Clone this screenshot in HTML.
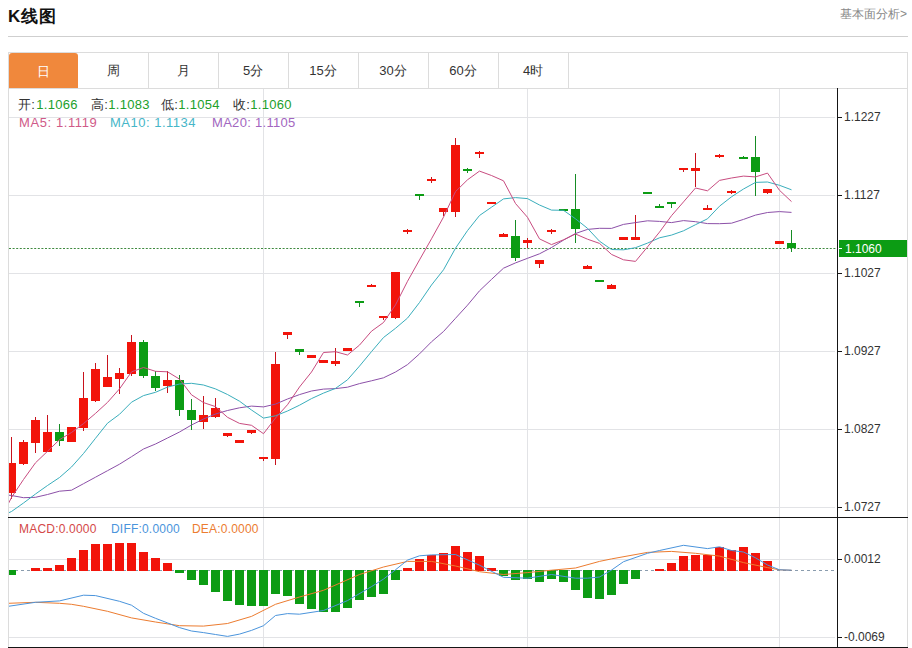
<!DOCTYPE html>
<html><head><meta charset="utf-8"><style>
*{margin:0;padding:0;box-sizing:border-box}
html,body{width:912px;height:648px;overflow:hidden;background:#fff;font-family:"Liberation Sans",sans-serif;position:relative}
.abs{position:absolute;white-space:nowrap}
.title{position:absolute;left:8px;top:5px;font-size:17px;font-weight:bold;color:#111;line-height:24px;letter-spacing:1px}
.more{position:absolute;right:5px;top:6px;font-size:12px;color:#888;line-height:16px}
.hsep{position:absolute;left:8px;top:36px;width:900px;height:1px;background:#cfcfcf}
.box{position:absolute;left:8px;top:52px;width:900px;height:596px;border:1px solid #dcdcdc;border-bottom:none}
.tabrow{position:absolute;left:8px;top:88px;width:900px;height:1px;background:#dcdcdc}
.tab{position:absolute;top:52px;width:70px;height:36px;line-height:38px;text-align:center;font-size:13px;color:#333}
.tab.on{background:#f0883c;color:#fff;border-radius:3px 3px 0 0;margin-left:1px;width:69px;top:53px;height:35px;line-height:37px}
.vsep{position:absolute;top:52px;width:1px;height:36px;background:#dcdcdc}
.al{position:absolute;left:844px;font-size:12px;line-height:16px;color:#333}
.tag{position:absolute;left:845px;top:241px;font-size:12px;line-height:17px;color:#fff}
.lg{position:absolute;font-size:13px;line-height:16px;white-space:nowrap;letter-spacing:0.3px}
.ml{position:absolute;font-size:12px;line-height:16px;white-space:nowrap;letter-spacing:0.2px}
svg{position:absolute;left:0;top:0}
</style></head><body>
<div class="title">K线图</div>
<div class="more">基本面分析&gt;</div>
<div class="hsep"></div>
<div class="box"></div>
<div class="tab on" style="left:8px">日</div><div class="tab" style="left:78px">周</div><div class="tab" style="left:148px">月</div><div class="tab" style="left:218px">5分</div><div class="tab" style="left:288px">15分</div><div class="tab" style="left:358px">30分</div><div class="tab" style="left:428px">60分</div><div class="tab" style="left:498px">4时</div><div class="vsep" style="left:148px"></div><div class="vsep" style="left:218px"></div><div class="vsep" style="left:288px"></div><div class="vsep" style="left:358px"></div><div class="vsep" style="left:428px"></div><div class="vsep" style="left:498px"></div><div class="vsep" style="left:568px"></div>
<div class="tabrow"></div>
<svg width="912" height="648" viewBox="0 0 912 648" shape-rendering="crispEdges">
<rect x="9" y="117" width="826" height="1" fill="#e2e3e6"/>
<rect x="9" y="195" width="826" height="1" fill="#e2e3e6"/>
<rect x="9" y="273" width="826" height="1" fill="#e2e3e6"/>
<rect x="9" y="351" width="826" height="1" fill="#e2e3e6"/>
<rect x="9" y="429" width="826" height="1" fill="#e2e3e6"/>
<rect x="9" y="507" width="826" height="1" fill="#e2e3e6"/>
<rect x="9" y="559" width="826" height="1" fill="#e2e3e6"/>
<rect x="9" y="637" width="826" height="1" fill="#e2e3e6"/>
<rect x="263" y="89" width="1" height="558" fill="#e2e3e6"/>
<rect x="527" y="89" width="1" height="558" fill="#e2e3e6"/>
<rect x="779" y="89" width="1" height="558" fill="#e2e3e6"/>
<line x1="9" y1="248.5" x2="837" y2="248.5" stroke="#3f8a3f" stroke-width="1" stroke-dasharray="2,1.6" shape-rendering="geometricPrecision"/>
<line x1="9" y1="570.5" x2="837" y2="570.5" stroke="#8a9cae" stroke-width="1" stroke-dasharray="3,3"/>
<defs><clipPath id="cm"><rect x="9" y="89" width="828" height="428"/></clipPath><clipPath id="cd"><rect x="9" y="518" width="828" height="129"/></clipPath></defs>
<g clip-path="url(#cm)">
<rect x="11" y="437" width="1" height="62" fill="#c8121c"/>
<rect x="7" y="463" width="9" height="30" fill="#f2140a"/>
<rect x="23" y="440" width="1" height="25" fill="#c8121c"/>
<rect x="19" y="442" width="9" height="22" fill="#f2140a"/>
<rect x="35" y="417" width="1" height="36" fill="#c8121c"/>
<rect x="31" y="420" width="9" height="23" fill="#f2140a"/>
<rect x="47" y="415" width="1" height="37" fill="#c8121c"/>
<rect x="43" y="432" width="9" height="20" fill="#f2140a"/>
<rect x="59" y="424" width="1" height="22" fill="#168c24"/>
<rect x="55" y="432" width="9" height="9" fill="#0c9c14"/>
<rect x="71" y="427" width="1" height="15" fill="#c8121c"/>
<rect x="67" y="427" width="9" height="15" fill="#f2140a"/>
<rect x="83" y="372" width="1" height="59" fill="#c8121c"/>
<rect x="79" y="398" width="9" height="30" fill="#f2140a"/>
<rect x="95" y="363" width="1" height="39" fill="#c8121c"/>
<rect x="91" y="369" width="9" height="32" fill="#f2140a"/>
<rect x="107" y="355" width="1" height="32" fill="#c8121c"/>
<rect x="103" y="377" width="9" height="10" fill="#f2140a"/>
<rect x="119" y="368" width="1" height="26" fill="#c8121c"/>
<rect x="115" y="373" width="9" height="6" fill="#f2140a"/>
<rect x="131" y="335" width="1" height="41" fill="#c8121c"/>
<rect x="127" y="342" width="9" height="32" fill="#f2140a"/>
<rect x="143" y="340" width="1" height="38" fill="#168c24"/>
<rect x="139" y="342" width="9" height="34" fill="#0c9c14"/>
<rect x="155" y="371" width="1" height="20" fill="#168c24"/>
<rect x="151" y="376" width="9" height="12" fill="#0c9c14"/>
<rect x="167" y="371" width="1" height="22" fill="#c8121c"/>
<rect x="163" y="380" width="9" height="6" fill="#f2140a"/>
<rect x="179" y="375" width="1" height="41" fill="#168c24"/>
<rect x="175" y="380" width="9" height="30" fill="#0c9c14"/>
<rect x="191" y="399" width="1" height="31" fill="#168c24"/>
<rect x="187" y="410" width="9" height="10" fill="#0c9c14"/>
<rect x="203" y="396" width="1" height="33" fill="#c8121c"/>
<rect x="199" y="415" width="9" height="7" fill="#f2140a"/>
<rect x="215" y="398" width="1" height="20" fill="#c8121c"/>
<rect x="211" y="408" width="9" height="9" fill="#f2140a"/>
<rect x="227" y="433" width="1" height="4" fill="#c8121c"/>
<rect x="223" y="433" width="9" height="3" fill="#f2140a"/>
<rect x="239" y="440" width="1" height="3" fill="#c8121c"/>
<rect x="235" y="440" width="9" height="3" fill="#f2140a"/>
<rect x="251" y="430" width="1" height="4" fill="#c8121c"/>
<rect x="247" y="430" width="9" height="3" fill="#f2140a"/>
<rect x="263" y="457" width="1" height="4" fill="#c8121c"/>
<rect x="259" y="457" width="9" height="2" fill="#f2140a"/>
<rect x="275" y="352" width="1" height="113" fill="#c8121c"/>
<rect x="271" y="364" width="9" height="95" fill="#f2140a"/>
<rect x="287" y="332" width="1" height="7" fill="#c8121c"/>
<rect x="283" y="332" width="9" height="3" fill="#f2140a"/>
<rect x="299" y="349" width="1" height="6" fill="#168c24"/>
<rect x="295" y="349" width="9" height="3" fill="#0c9c14"/>
<rect x="311" y="355" width="1" height="3" fill="#c8121c"/>
<rect x="307" y="355" width="9" height="3" fill="#f2140a"/>
<rect x="323" y="360" width="1" height="3" fill="#c8121c"/>
<rect x="319" y="360" width="9" height="3" fill="#f2140a"/>
<rect x="335" y="348" width="1" height="18" fill="#c8121c"/>
<rect x="331" y="361" width="9" height="3" fill="#f2140a"/>
<rect x="347" y="348" width="1" height="3" fill="#c8121c"/>
<rect x="343" y="348" width="9" height="3" fill="#f2140a"/>
<rect x="359" y="301" width="1" height="6" fill="#168c24"/>
<rect x="355" y="301" width="9" height="2" fill="#0c9c14"/>
<rect x="371" y="284" width="1" height="3" fill="#c8121c"/>
<rect x="367" y="285" width="9" height="2" fill="#f2140a"/>
<rect x="383" y="316" width="1" height="4" fill="#c8121c"/>
<rect x="379" y="316" width="9" height="2" fill="#f2140a"/>
<rect x="395" y="272" width="1" height="47" fill="#c8121c"/>
<rect x="391" y="272" width="9" height="46" fill="#f2140a"/>
<rect x="407" y="229" width="1" height="5" fill="#c8121c"/>
<rect x="403" y="230" width="9" height="2" fill="#f2140a"/>
<rect x="419" y="194" width="1" height="6" fill="#168c24"/>
<rect x="415" y="194" width="9" height="2" fill="#0c9c14"/>
<rect x="431" y="177" width="1" height="6" fill="#c8121c"/>
<rect x="427" y="179" width="9" height="2" fill="#f2140a"/>
<rect x="443" y="208" width="1" height="8" fill="#c8121c"/>
<rect x="439" y="208" width="9" height="4" fill="#f2140a"/>
<rect x="455" y="138" width="1" height="79" fill="#c8121c"/>
<rect x="451" y="145" width="9" height="67" fill="#f2140a"/>
<rect x="467" y="168" width="1" height="5" fill="#168c24"/>
<rect x="463" y="169" width="9" height="2" fill="#0c9c14"/>
<rect x="479" y="151" width="1" height="7" fill="#c8121c"/>
<rect x="475" y="152" width="9" height="2" fill="#f2140a"/>
<rect x="491" y="202" width="1" height="1" fill="#c8121c"/>
<rect x="487" y="202" width="9" height="2" fill="#f2140a"/>
<rect x="503" y="233" width="1" height="4" fill="#c8121c"/>
<rect x="499" y="234" width="9" height="3" fill="#f2140a"/>
<rect x="515" y="220" width="1" height="41" fill="#168c24"/>
<rect x="511" y="236" width="9" height="22" fill="#0c9c14"/>
<rect x="527" y="238" width="1" height="10" fill="#c8121c"/>
<rect x="523" y="240" width="9" height="3" fill="#f2140a"/>
<rect x="539" y="260" width="1" height="8" fill="#c8121c"/>
<rect x="535" y="260" width="9" height="4" fill="#f2140a"/>
<rect x="551" y="229" width="1" height="5" fill="#c8121c"/>
<rect x="547" y="230" width="9" height="2" fill="#f2140a"/>
<rect x="563" y="209" width="1" height="2" fill="#168c24"/>
<rect x="559" y="209" width="9" height="2" fill="#0c9c14"/>
<rect x="575" y="174" width="1" height="69" fill="#168c24"/>
<rect x="571" y="209" width="9" height="20" fill="#0c9c14"/>
<rect x="587" y="265" width="1" height="4" fill="#c8121c"/>
<rect x="583" y="266" width="9" height="3" fill="#f2140a"/>
<rect x="599" y="280" width="1" height="1" fill="#168c24"/>
<rect x="595" y="280" width="9" height="2" fill="#0c9c14"/>
<rect x="611" y="284" width="1" height="5" fill="#c8121c"/>
<rect x="607" y="285" width="9" height="4" fill="#f2140a"/>
<rect x="623" y="237" width="1" height="2" fill="#c8121c"/>
<rect x="619" y="237" width="9" height="3" fill="#f2140a"/>
<rect x="635" y="215" width="1" height="25" fill="#c8121c"/>
<rect x="631" y="237" width="9" height="3" fill="#f2140a"/>
<rect x="647" y="192" width="1" height="2" fill="#168c24"/>
<rect x="643" y="192" width="9" height="2" fill="#0c9c14"/>
<rect x="659" y="204" width="1" height="4" fill="#168c24"/>
<rect x="655" y="206" width="9" height="2" fill="#0c9c14"/>
<rect x="671" y="202" width="1" height="6" fill="#168c24"/>
<rect x="667" y="202" width="9" height="2" fill="#0c9c14"/>
<rect x="683" y="168" width="1" height="4" fill="#c8121c"/>
<rect x="679" y="168" width="9" height="2" fill="#f2140a"/>
<rect x="695" y="153" width="1" height="34" fill="#c8121c"/>
<rect x="691" y="168" width="9" height="3" fill="#f2140a"/>
<rect x="707" y="205" width="1" height="4" fill="#c8121c"/>
<rect x="703" y="208" width="9" height="2" fill="#f2140a"/>
<rect x="719" y="154" width="1" height="4" fill="#c8121c"/>
<rect x="715" y="155" width="9" height="2" fill="#f2140a"/>
<rect x="731" y="190" width="1" height="4" fill="#c8121c"/>
<rect x="727" y="191" width="9" height="2" fill="#f2140a"/>
<rect x="743" y="156" width="1" height="3" fill="#168c24"/>
<rect x="739" y="157" width="9" height="2" fill="#0c9c14"/>
<rect x="755" y="136" width="1" height="60" fill="#168c24"/>
<rect x="751" y="157" width="9" height="15" fill="#0c9c14"/>
<rect x="767" y="189" width="1" height="5" fill="#c8121c"/>
<rect x="763" y="189" width="9" height="4" fill="#f2140a"/>
<rect x="779" y="241" width="1" height="2" fill="#c8121c"/>
<rect x="775" y="241" width="9" height="3" fill="#f2140a"/>
<rect x="791" y="230" width="1" height="22" fill="#168c24"/>
<rect x="787" y="243" width="9" height="5" fill="#0c9c14"/>
<polyline points="-0.5,494.0 11.5,495.5 23.5,497.7 35.5,497.3 47.5,494.5 59.5,491.2 71.5,490.2 83.5,483.7 95.5,477.2 107.5,470.7 119.5,464.2 131.5,456.7 143.5,449.0 155.5,444.0 167.5,438.0 179.5,432.0 191.5,425.0 203.5,419.0 215.5,414.0 227.5,410.5 239.5,407.8 251.5,406.1 263.5,406.9 275.5,404.1 287.5,399.0 299.5,394.6 311.5,391.0 323.5,389.1 335.5,388.6 347.5,387.2 359.5,383.6 371.5,380.8 383.5,377.8 395.5,372.0 407.5,364.6 419.5,353.9 431.5,341.8 443.5,331.5 455.5,318.3 467.5,305.2 479.5,290.8 491.5,279.4 503.5,268.2 515.5,262.9 527.5,258.3 539.5,253.8 551.5,247.5 563.5,240.1 575.5,233.5 587.5,229.4 599.5,228.3 611.5,228.4 623.5,224.4 635.5,222.6 647.5,220.8 659.5,221.4 671.5,222.6 683.5,220.6 695.5,221.7 707.5,223.6 719.5,223.7 731.5,223.2 743.5,219.4 755.5,215.1 767.5,212.5 779.5,211.6 791.5,212.4" fill="none" stroke="#8c50a8" stroke-width="1.0" stroke-linejoin="round" shape-rendering="geometricPrecision"/>
<polyline points="-0.5,517.0 11.5,511.5 23.5,503.0 35.5,494.0 47.5,485.5 59.5,477.5 71.5,467.0 83.5,453.5 95.5,438.3 107.5,423.2 119.5,414.3 131.5,402.2 143.5,395.6 155.5,392.3 167.5,387.1 179.5,384.0 191.5,383.3 203.5,385.0 215.5,388.9 227.5,394.5 239.5,401.2 251.5,410.0 263.5,418.1 275.5,415.8 287.5,411.0 299.5,405.2 311.5,398.6 323.5,393.1 335.5,388.4 347.5,379.8 359.5,366.1 371.5,351.6 383.5,337.5 395.5,328.3 407.5,318.1 419.5,302.5 431.5,285.0 443.5,269.8 455.5,248.2 467.5,230.6 479.5,215.5 491.5,207.2 503.5,198.9 515.5,197.6 527.5,198.6 539.5,205.0 551.5,210.1 563.5,210.3 575.5,218.8 587.5,228.3 599.5,241.2 611.5,249.5 623.5,249.8 635.5,247.7 647.5,243.1 659.5,237.8 671.5,235.1 683.5,230.8 695.5,224.7 707.5,218.8 719.5,206.2 731.5,196.8 743.5,189.0 755.5,182.4 767.5,182.0 779.5,185.3 791.5,189.8" fill="none" stroke="#3aaebc" stroke-width="1.0" stroke-linejoin="round" shape-rendering="geometricPrecision"/>
<polyline points="-0.5,521.0 11.5,497.5 23.5,479.5 35.5,462.8 47.5,451.3 59.5,439.7 71.5,432.5 83.5,423.6 95.5,413.4 107.5,402.4 119.5,388.9 131.5,371.9 143.5,367.5 155.5,371.3 167.5,371.8 179.5,379.1 191.5,394.8 203.5,402.6 215.5,406.6 227.5,417.3 239.5,423.4 251.5,425.3 263.5,433.7 275.5,418.0 287.5,404.7 299.5,387.0 311.5,372.0 323.5,352.5 335.5,351.7 347.5,355.0 359.5,345.1 371.5,331.2 383.5,322.5 395.5,304.9 407.5,281.3 419.5,259.9 431.5,238.8 443.5,217.1 455.5,191.6 467.5,179.8 479.5,171.1 491.5,175.5 503.5,180.8 515.5,203.5 527.5,217.3 539.5,238.9 551.5,244.6 563.5,239.8 575.5,234.0 587.5,239.2 599.5,243.4 611.5,254.4 623.5,259.8 635.5,261.4 647.5,246.9 659.5,232.1 671.5,215.7 683.5,201.9 695.5,188.0 707.5,190.8 719.5,180.4 731.5,178.0 743.5,176.1 755.5,176.9 767.5,173.1 779.5,190.3 791.5,201.6" fill="none" stroke="#c84c80" stroke-width="1.0" stroke-linejoin="round" shape-rendering="geometricPrecision"/>
</g>
<g clip-path="url(#cd)">
<rect x="7" y="570" width="9" height="5" fill="#0c9c14"/>
<rect x="31" y="568" width="9" height="3" fill="#f2140a"/>
<rect x="43" y="568" width="9" height="3" fill="#f2140a"/>
<rect x="55" y="565" width="9" height="6" fill="#f2140a"/>
<rect x="67" y="558" width="9" height="13" fill="#f2140a"/>
<rect x="79" y="550" width="9" height="21" fill="#f2140a"/>
<rect x="91" y="544" width="9" height="27" fill="#f2140a"/>
<rect x="103" y="544" width="9" height="27" fill="#f2140a"/>
<rect x="115" y="543" width="9" height="28" fill="#f2140a"/>
<rect x="127" y="543" width="9" height="28" fill="#f2140a"/>
<rect x="139" y="552" width="9" height="19" fill="#f2140a"/>
<rect x="151" y="558" width="9" height="13" fill="#f2140a"/>
<rect x="163" y="563" width="9" height="8" fill="#f2140a"/>
<rect x="175" y="570" width="9" height="3" fill="#0c9c14"/>
<rect x="187" y="570" width="9" height="10" fill="#0c9c14"/>
<rect x="199" y="570" width="9" height="15" fill="#0c9c14"/>
<rect x="211" y="570" width="9" height="22" fill="#0c9c14"/>
<rect x="223" y="570" width="9" height="31" fill="#0c9c14"/>
<rect x="235" y="570" width="9" height="35" fill="#0c9c14"/>
<rect x="247" y="570" width="9" height="36" fill="#0c9c14"/>
<rect x="259" y="570" width="9" height="36" fill="#0c9c14"/>
<rect x="271" y="570" width="9" height="24" fill="#0c9c14"/>
<rect x="283" y="570" width="9" height="26" fill="#0c9c14"/>
<rect x="295" y="570" width="9" height="34" fill="#0c9c14"/>
<rect x="307" y="570" width="9" height="39" fill="#0c9c14"/>
<rect x="319" y="570" width="9" height="42" fill="#0c9c14"/>
<rect x="331" y="570" width="9" height="42" fill="#0c9c14"/>
<rect x="343" y="570" width="9" height="38" fill="#0c9c14"/>
<rect x="355" y="570" width="9" height="30" fill="#0c9c14"/>
<rect x="367" y="570" width="9" height="27" fill="#0c9c14"/>
<rect x="379" y="570" width="9" height="24" fill="#0c9c14"/>
<rect x="391" y="570" width="9" height="10" fill="#0c9c14"/>
<rect x="403" y="568" width="9" height="3" fill="#f2140a"/>
<rect x="415" y="559" width="9" height="12" fill="#f2140a"/>
<rect x="427" y="555" width="9" height="16" fill="#f2140a"/>
<rect x="439" y="553" width="9" height="18" fill="#f2140a"/>
<rect x="451" y="546" width="9" height="25" fill="#f2140a"/>
<rect x="463" y="552" width="9" height="19" fill="#f2140a"/>
<rect x="475" y="556" width="9" height="15" fill="#f2140a"/>
<rect x="487" y="568" width="9" height="3" fill="#f2140a"/>
<rect x="499" y="570" width="9" height="6" fill="#0c9c14"/>
<rect x="511" y="570" width="9" height="10" fill="#0c9c14"/>
<rect x="523" y="570" width="9" height="9" fill="#0c9c14"/>
<rect x="535" y="570" width="9" height="12" fill="#0c9c14"/>
<rect x="547" y="570" width="9" height="9" fill="#0c9c14"/>
<rect x="559" y="570" width="9" height="12" fill="#0c9c14"/>
<rect x="571" y="570" width="9" height="20" fill="#0c9c14"/>
<rect x="583" y="570" width="9" height="28" fill="#0c9c14"/>
<rect x="595" y="570" width="9" height="29" fill="#0c9c14"/>
<rect x="607" y="570" width="9" height="25" fill="#0c9c14"/>
<rect x="619" y="570" width="9" height="14" fill="#0c9c14"/>
<rect x="631" y="570" width="9" height="9" fill="#0c9c14"/>
<rect x="655" y="569" width="9" height="2" fill="#f2140a"/>
<rect x="667" y="563" width="9" height="8" fill="#f2140a"/>
<rect x="679" y="556" width="9" height="15" fill="#f2140a"/>
<rect x="691" y="555" width="9" height="16" fill="#f2140a"/>
<rect x="703" y="555" width="9" height="16" fill="#f2140a"/>
<rect x="715" y="547" width="9" height="24" fill="#f2140a"/>
<rect x="727" y="550" width="9" height="21" fill="#f2140a"/>
<rect x="739" y="547" width="9" height="24" fill="#f2140a"/>
<rect x="751" y="553" width="9" height="18" fill="#f2140a"/>
<rect x="763" y="561" width="9" height="10" fill="#f2140a"/>
<polyline points="8.4,603.3 35.5,602.3 59.5,603.3 71.5,604.3 83.5,606.3 107.5,611.3 131.5,617.9 155.5,622.0 179.5,625.7 203.5,626.1 227.5,623.5 251.5,616.4 275.5,604.3 299.5,597.0 323.5,590.3 359.5,574.5 383.5,567.0 407.5,561.4 431.5,561.4 455.5,566.0 479.5,571.7 503.5,574.5 527.5,572.6 551.5,570.2 575.5,568.0 599.5,561.4 611.5,558.9 647.5,552.4 671.5,551.4 695.5,553.3 719.5,556.1 743.5,562.6 767.5,567.6 779.5,569.8 791.5,570.3" fill="none" stroke="#ec7c30" stroke-width="1.0" stroke-linejoin="round" shape-rendering="geometricPrecision"/>
<polyline points="8.4,606.3 35.5,602.3 59.5,600.9 83.5,595.2 95.5,595.6 119.5,601.3 131.5,605.2 143.5,613.3 155.5,618.3 167.5,622.9 179.5,627.6 191.5,631.0 203.5,632.6 215.5,634.5 227.5,636.4 239.5,634.1 251.5,630.4 263.5,625.7 275.5,615.5 287.5,613.6 299.5,614.2 323.5,610.5 347.5,600.6 371.5,586.6 383.5,579.1 395.5,569.8 407.5,560.1 419.5,555.8 431.5,554.9 455.5,554.5 479.5,565.2 503.5,577.3 527.5,578.2 551.5,574.5 575.5,578.2 587.5,578.2 599.5,577.0 611.5,570.1 623.5,561.7 647.5,553.3 659.5,550.5 683.5,545.3 707.5,548.6 719.5,546.8 731.5,550.5 743.5,552.0 755.5,557.8 767.5,565.0 779.5,569.8 791.5,570.2" fill="none" stroke="#4a94dc" stroke-width="1.0" stroke-linejoin="round" shape-rendering="geometricPrecision"/>
</g>
<rect x="837" y="88" width="1" height="560" fill="#151515"/>
<rect x="8" y="517" width="900" height="1" fill="#151515"/>
<rect x="8" y="647" width="900" height="1" fill="#151515"/>
<rect x="838" y="117" width="4" height="1" fill="#151515"/>
<rect x="838" y="195" width="4" height="1" fill="#151515"/>
<rect x="838" y="273" width="4" height="1" fill="#151515"/>
<rect x="838" y="351" width="4" height="1" fill="#151515"/>
<rect x="838" y="429" width="4" height="1" fill="#151515"/>
<rect x="838" y="507" width="4" height="1" fill="#151515"/>
<rect x="838" y="559" width="4" height="1" fill="#151515"/>
<rect x="838" y="637" width="4" height="1" fill="#151515"/>
<rect x="839" y="240" width="68" height="17" fill="#0c9c14"/>
<rect x="838" y="248" width="4" height="1" fill="#fff"/>
</svg>
<div class="al" style="top:109px">1.1227</div><div class="al" style="top:187px">1.1127</div><div class="al" style="top:265px">1.1027</div><div class="al" style="top:343px">1.0927</div><div class="al" style="top:421px">1.0827</div><div class="al" style="top:499px">1.0727</div><div class="al" style="top:551px">0.0012</div><div class="al" style="top:629px">-0.0069</div>
<div class="tag">1.1060</div>
<div class="lg" style="left:18px;top:97px;color:#333">开:<span style="color:#22a02a;margin-left:1px">1.1066</span></div>
<div class="lg" style="left:91px;top:97px;color:#333">高:<span style="color:#22a02a">1.1083</span></div>
<div class="lg" style="left:161px;top:97px;color:#333">低:<span style="color:#22a02a">1.1054</span></div>
<div class="lg" style="left:233px;top:97px;color:#333">收:<span style="color:#22a02a">1.1060</span></div>
<div class="lg" style="left:19px;top:115px;color:#d05a88;letter-spacing:0.6px">MA5: 1.1119</div>
<div class="lg" style="left:110px;top:115px;color:#46b6c8;letter-spacing:0.5px">MA10: 1.1134</div>
<div class="lg" style="left:212px;top:115px;color:#a266c0">MA20: 1.1105</div>
<div class="ml" style="left:19px;top:521px;color:#d44848">MACD:0.0000</div>
<div class="ml" style="left:111px;top:521px;color:#4a94dc">DIFF:0.0000</div>
<div class="ml" style="left:192px;top:521px;color:#ec7c30">DEA:0.0000</div>
</body></html>
